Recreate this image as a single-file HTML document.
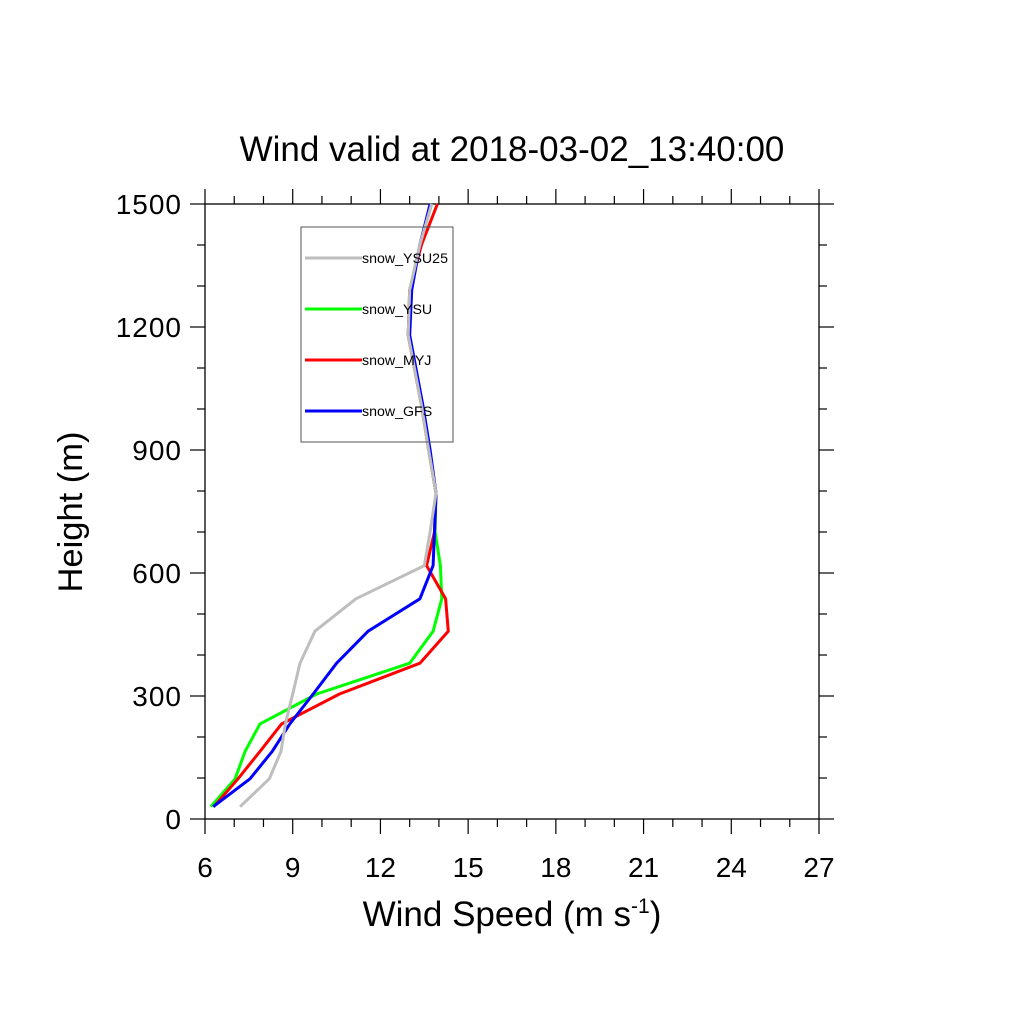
<!DOCTYPE html>
<html><head><meta charset="utf-8"><style>
html,body{margin:0;padding:0;background:#fff;}
svg{display:block;font-family:"Liberation Sans",sans-serif;}
</style></head><body>
<svg id="chart" width="1024" height="1024" viewBox="0 0 1024 1024">
<text x="512" y="161" font-size="35" text-anchor="middle">Wind valid at 2018-03-02_13:40:00</text>
<text transform="translate(82,512) rotate(-90)" font-size="34.5" text-anchor="middle">Height (m)</text>
<text x="512" y="926" font-size="35" text-anchor="middle">Wind Speed (m s<tspan dy="-13" font-size="21">-1</tspan><tspan dy="13">)</tspan></text>
<g id="axes"></g>
<g id="series"></g>
<g id="legend"></g>
</svg>
<script>
const heights = [30, 98, 165, 232, 305, 380, 458, 537, 618, 700, 795, 900, 1010, 1180, 1290, 1400, 1500];
const ysu25 = [7.2, 8.2, 8.6, 8.75, 9.0, 9.25, 9.76, 11.16, 13.5, 13.7, 13.9, 13.65, 13.4, 12.95, 13.0, 13.35, 13.75];
const ysu   = [6.2, 7.03, 7.37, 7.88, 9.82, 13.0, 13.8, 14.1, 14.05, 13.87, 13.9, 13.65, 13.4, 12.95, 13.0, 13.35, 13.75];
const myj   = [6.3, 7.13, 7.88, 8.62, 10.6, 13.35, 14.32, 14.23, 13.58, 13.85, 13.9, 13.65, 13.4, 12.95, 13.0, 13.4, 13.95];
const gfs   = [6.28, 7.54, 8.3, 8.9, 9.7, 10.5, 11.58, 13.35, 13.8, 13.85, 13.9, 13.7, 13.45, 13.0, 13.07, 13.35, 13.7];
const xTicks = [6, 9, 12, 15, 18, 21, 24, 27];
const yTicks = [0, 300, 600, 900, 1200, 1500];
const seriesNames = ["snow_YSU25", "snow_YSU", "snow_MYJ", "snow_GFS"];
const seriesColors = ["#bebebe", "#00ff00", "#ff0000", "#0000ff"];

const X0=205, X1=819, Y0=819, Y1=204;
const sx = v => X0 + (v-6)/(27-6)*(X1-X0);
const sy = v => Y0 - v/1500*(Y0-Y1);
const NS="http://www.w3.org/2000/svg";
function mk(tag, attrs, parent){const e=document.createElementNS(NS,tag);for(const k in attrs)e.setAttribute(k,attrs[k]);parent.appendChild(e);return e;}
const axes=document.getElementById('axes');
const frame=mk('rect',{x:X0,y:Y1,width:X1-X0,height:Y0-Y1,fill:'none',stroke:'#000','stroke-width':1.3},axes);


for(let v=6; v<=27; v++){
  const major = (v-6)%3===0, L = major?15:8, x=sx(v);
  const t1=mk('line',{x1:x,y1:Y0,x2:x,y2:Y0+L,stroke:'#000','stroke-width':1.2},axes);
  
  
  const t2=mk('line',{x1:x,y1:Y1,x2:x,y2:Y1-L,stroke:'#000','stroke-width':1.2},axes);
  
  
}
xTicks.forEach(v=>{
  const t=mk('text',{x:sx(v),y:877,'font-size':28,'text-anchor':'middle'},axes);
  t.textContent=v;
  
  
});
for(let v=0; v<=1500; v+=100){
  const major=v%300===0, L=major?15:8, y=sy(v);
  const t1=mk('line',{x1:X0,y1:y,x2:X0-L,y2:y,stroke:'#000','stroke-width':1.2},axes);
  
  
  const t2=mk('line',{x1:X1,y1:y,x2:X1+L,y2:y,stroke:'#000','stroke-width':1.2},axes);
  
  
}
yTicks.forEach(v=>{
  const t=mk('text',{x:182,y:sy(v)+10,'font-size':28,'text-anchor':'end','letter-spacing':1},axes);
  t.textContent=v;
  
  
});
const sg=document.getElementById('series');
const data=[ysu25, ysu, myj, gfs];
[1,2,3,0].forEach(i=>{
  const pts=heights.map((h,j)=>sx(data[i][j]).toFixed(1)+','+sy(h).toFixed(1)).join(' ');
  const p=mk('polyline',{points:pts,fill:'none',stroke:seriesColors[i],'stroke-width':3,'stroke-linejoin':'round'},sg);
  
  
});
const lg=document.getElementById('legend');
const box=mk('rect',{x:301,y:227,width:152,height:215,fill:'none',stroke:'#555','stroke-width':1},lg);


const ly=[258,309,360,411];
seriesNames.forEach((n,i)=>{
  const l=mk('line',{x1:305,y1:ly[i],x2:362,y2:ly[i],stroke:seriesColors[i],'stroke-width':3},lg);
  
  
  const t=mk('text',{x:362,y:ly[i]+5,'font-size':14.2},lg);
  t.textContent=n;
  
  
});
</script>
</body></html>
